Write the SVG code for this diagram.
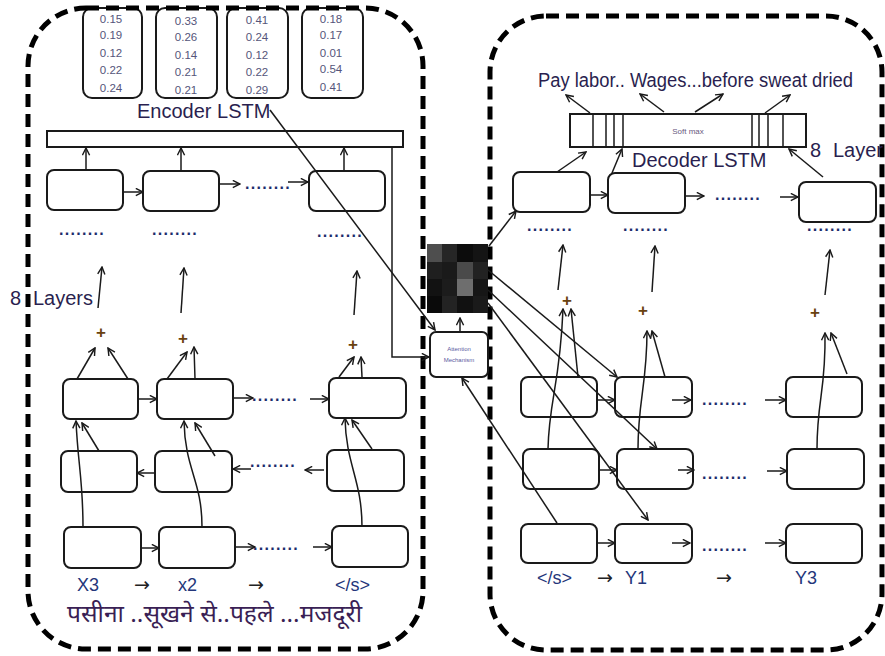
<svg xmlns="http://www.w3.org/2000/svg" width="885" height="656" viewBox="0 0 885 656">
<style>
.panel{fill:none;stroke:#000;stroke-width:5;stroke-dasharray:13 7}
.box{fill:#fff;stroke:#1a1a1a;stroke-width:2}
.ln{fill:none;stroke:#1a1a1a;stroke-width:1.5}
.ar{marker-end:url(#ah)}
.num{font-family:"Liberation Sans",Arial,sans-serif;font-size:11.5px;fill:#55557a;text-anchor:middle}
.lbl{font-family:"Liberation Sans",Arial,sans-serif;font-size:20px;fill:#2a1f4f}
.bot{font-family:"Liberation Sans",Arial,sans-serif;font-size:18px;fill:#24367a}
.arrtxt{font-family:"DejaVu Sans","Liberation Sans",sans-serif;font-size:19px;fill:#222}
.dots{font-family:"Liberation Sans",Arial,sans-serif;font-size:16px;letter-spacing:1.3px;fill:#1c2c6c;font-weight:bold}
.plus{font-family:"Liberation Sans",Arial,sans-serif;font-size:17px;font-weight:bold;fill:#6a4210;text-anchor:middle}
</style>
<defs>
<marker id="ah" viewBox="0 0 10 10" refX="9" refY="5" markerWidth="9" markerHeight="9" markerUnits="userSpaceOnUse" orient="auto">
<path d="M1,1 L9,5 L1,9" fill="none" stroke="#1a1a1a" stroke-width="1.6"/>
</marker>
</defs>

<!-- probability vectors -->
<g id="vec1"><rect class="box" x="83" y="8" width="59" height="90" rx="9"/>
<text class="num" x="111" y="23">0.15</text><text class="num" x="111" y="39">0.19</text><text class="num" x="111" y="57">0.12</text><text class="num" x="111" y="74">0.22</text><text class="num" x="111" y="92">0.24</text></g>
<g id="vec2"><rect class="box" x="156" y="8" width="61" height="90" rx="9"/>
<text class="num" x="186" y="25">0.33</text><text class="num" x="186" y="41">0.26</text><text class="num" x="186" y="59">0.14</text><text class="num" x="186" y="76">0.21</text><text class="num" x="186" y="94">0.21</text></g>
<g id="vec3"><rect class="box" x="227" y="8" width="61" height="90" rx="9"/>
<text class="num" x="257" y="24">0.41</text><text class="num" x="257" y="41">0.24</text><text class="num" x="257" y="59">0.12</text><text class="num" x="257" y="76">0.22</text><text class="num" x="257" y="94">0.29</text></g>
<g id="vec4"><rect class="box" x="302" y="8" width="61" height="90" rx="9"/>
<text class="num" x="331" y="23">0.18</text><text class="num" x="331" y="39">0.17</text><text class="num" x="331" y="57">0.01</text><text class="num" x="331" y="73">0.54</text><text class="num" x="331" y="91">0.41</text></g>

<!-- panels -->
<g id="encoder-panel"><rect class="panel" x="28" y="8" width="395" height="641" rx="58"/></g>
<g id="decoder-panel"><rect class="panel" x="490" y="16" width="392" height="634" rx="56"/></g>

<!-- labels -->
<g id="labels">
<text class="lbl" x="137" y="118">Encoder LSTM</text>
<text class="lbl" x="632" y="167">Decoder LSTM</text>
<text class="lbl" x="10" y="305" fill="#7a4a10">8</text>
<text class="lbl" x="33" y="305">Layers</text>
<text class="lbl" x="810" y="157">8</text>
<text class="lbl" x="833" y="157">Layer</text>
<text class="lbl" x="538" y="87" font-size="18" textLength="315" lengthAdjust="spacingAndGlyphs">Pay labor.. Wages...before sweat dried</text>
<text class="bot" x="77" y="591">X3</text>
<text class="arrtxt" x="134" y="591">→</text>
<text class="bot" x="178" y="591">x2</text>
<text class="arrtxt" x="248" y="591">→</text>
<text class="bot" x="335" y="591">&lt;/s&gt;</text>
<text class="bot" x="537" y="584">&lt;/s&gt;</text>
<text class="arrtxt" x="597" y="584">→</text>
<text class="bot" x="625" y="584">Y1</text>
<text class="arrtxt" x="716" y="584">→</text>
<text class="bot" x="795" y="584">Y3</text>
<text x="67" y="622" font-family="'Noto Sans Devanagari','Noto Sans','Lohit Devanagari',sans-serif" font-size="24" fill="#3a1f55" textLength="295" lengthAdjust="spacingAndGlyphs">पसीना ..सूखने  से..पहले ...मजदूरी</text>
</g>

<!-- encoder -->
<g id="enc-bar"><rect class="box" x="47" y="131" width="356" height="16" rx="0"/></g>
<g id="enc-top1"><rect class="box" x="47" y="170" width="76" height="40" rx="7"/></g>
<g id="enc-top2"><rect class="box" x="143" y="171" width="76" height="40" rx="7"/></g>
<g id="enc-top3"><rect class="box" x="309" y="171" width="76" height="40" rx="7"/></g>
<g id="enc-a1"><rect class="box" x="63" y="379" width="75" height="40" rx="7"/></g>
<g id="enc-a2"><rect class="box" x="157" y="379" width="76" height="40" rx="7"/></g>
<g id="enc-a3"><rect class="box" x="329" y="378" width="77" height="40" rx="7"/></g>
<g id="enc-b1"><rect class="box" x="61" y="451" width="76" height="41" rx="7"/></g>
<g id="enc-b2"><rect class="box" x="155" y="451" width="77" height="41" rx="7"/></g>
<g id="enc-b3"><rect class="box" x="327" y="450" width="77" height="41" rx="7"/></g>
<g id="enc-c1"><rect class="box" x="64" y="527" width="77" height="41" rx="7"/></g>
<g id="enc-c2"><rect class="box" x="159" y="527" width="76" height="41" rx="7"/></g>
<g id="enc-c3"><rect class="box" x="332" y="526" width="76" height="41" rx="7"/></g>

<!-- decoder -->
<g id="softmax">
<rect class="box" x="570" y="114" width="236" height="33"/>
<path class="ln" d="M593,114V147M606,114V147M614,114V147M623,114V147M752,114V147M759,114V147M768,114V147M783,114V147"/>
<text x="688" y="134" font-family="'Liberation Sans',Arial,sans-serif" font-size="8" fill="#6a5a80" text-anchor="middle">Soft max</text>
</g>
<g id="dec-top1"><rect class="box" x="513" y="172" width="77" height="40" rx="7"/></g>
<g id="dec-top2"><rect class="box" x="608" y="173" width="77" height="40" rx="7"/></g>
<g id="dec-top3"><rect class="box" x="799" y="182" width="77" height="40" rx="7"/></g>
<g id="dec-a1"><rect class="box" x="521" y="377" width="76" height="40" rx="7"/></g>
<g id="dec-a2"><rect class="box" x="615" y="377" width="77" height="40" rx="7"/></g>
<g id="dec-a3"><rect class="box" x="786" y="377" width="76" height="40" rx="7"/></g>
<g id="dec-b1"><rect class="box" x="523" y="449" width="76" height="40" rx="7"/></g>
<g id="dec-b2"><rect class="box" x="617" y="449" width="76" height="40" rx="7"/></g>
<g id="dec-b3"><rect class="box" x="787" y="449" width="77" height="40" rx="7"/></g>
<g id="dec-c1"><rect class="box" x="521" y="524" width="76" height="39" rx="7"/></g>
<g id="dec-c2"><rect class="box" x="615" y="524" width="77" height="39" rx="7"/></g>
<g id="dec-c3"><rect class="box" x="786" y="524" width="76" height="39" rx="7"/></g>

<!-- attention -->
<g id="attention-matrix">
<rect x="427" y="244" width="15" height="18" fill="#4e4e4e"/><rect x="442" y="244" width="15" height="18" fill="#262626"/><rect x="457" y="244" width="16" height="18" fill="#0c0c0c"/><rect x="473" y="244" width="15" height="18" fill="#141414"/>
<rect x="427" y="262" width="15" height="17" fill="#1f1f1f"/><rect x="442" y="262" width="15" height="17" fill="#1a1a1a"/><rect x="457" y="262" width="16" height="17" fill="#4a4a4a"/><rect x="473" y="262" width="15" height="17" fill="#222"/>
<rect x="427" y="279" width="15" height="17" fill="#121212"/><rect x="442" y="279" width="15" height="17" fill="#1c1c1c"/><rect x="457" y="279" width="16" height="17" fill="#6e6e6e"/><rect x="473" y="279" width="15" height="17" fill="#161616"/>
<rect x="427" y="296" width="15" height="17" fill="#0a0a0a"/><rect x="442" y="296" width="15" height="17" fill="#232323"/><rect x="457" y="296" width="16" height="17" fill="#111"/><rect x="473" y="296" width="15" height="17" fill="#1a1a1a"/>
</g>
<g id="attention-mechanism">
<rect class="box" x="430" y="332" width="58" height="45" rx="6" stroke-width="1.5"/>
<text x="459" y="351" font-family="'Liberation Sans',Arial,sans-serif" font-size="6" fill="#5a5aa0" text-anchor="middle">Attention</text>
<text x="459" y="362" font-family="'Liberation Sans',Arial,sans-serif" font-size="6" fill="#5a5aa0" text-anchor="middle">Mechanism</text>
</g>

<!-- dots -->
<g id="dots">
<text class="dots" x="59" y="235">........</text>
<text class="dots" x="152" y="235">........</text>
<text class="dots" x="317" y="237">........</text>
<text class="dots" x="245" y="189">........</text>
<text class="dots" x="252" y="401">........</text>
<text class="dots" x="250" y="467">........</text>
<text class="dots" x="253" y="550">........</text>
<text class="dots" x="715" y="200">........</text>
<text class="dots" x="527" y="231">........</text>
<text class="dots" x="623" y="231">........</text>
<text class="dots" x="807" y="231">........</text>
<text class="dots" x="702" y="405">........</text>
<text class="dots" x="702" y="479">........</text>
<text class="dots" x="702" y="551">........</text>
</g>
<g id="plus">
<text class="plus" x="101" y="338">+</text>
<text class="plus" x="183" y="344">+</text>
<text class="plus" x="353" y="350">+</text>
<text class="plus" x="567" y="306">+</text>
<text class="plus" x="643" y="316">+</text>
<text class="plus" x="815" y="318">+</text>
</g>

<!-- connectors -->
<g id="connectors" class="ln">
<path class="ar" d="M86,170 L86,148"/>
<path class="ar" d="M181,171 L181,148"/>
<path class="ar" d="M344,171 L344,148"/>
<path class="ar" d="M123,192 L143,192"/>
<path class="ar" d="M219,184 L240,184"/>
<path class="ar" d="M288,182 L308,182"/>
<path class="ar" d="M98,308 L102,267"/>
<path class="ar" d="M181,313 L184,268"/>
<path class="ar" d="M354,315 L357,271"/>
<path class="ar" d="M77,379 L95,348"/>
<path class="ar" d="M128,379 L108,348"/>
<path class="ar" d="M167,379 L187,352"/>
<path class="ar" d="M195,379 L194,347"/>
<path class="ar" d="M339,377 L354,357"/>
<path class="ar" d="M362,377 L361,357"/>
<path class="ar" d="M138,399 L157,399"/>
<path class="ar" d="M233,398 L253,398"/>
<path class="ar" d="M310,399 L329,399"/>
<path class="ar" d="M155,473 L137,473"/>
<path class="ar" d="M251,469 L233,469"/>
<path class="ar" d="M324,470 L305,470"/>
<path class="ar" d="M141,548 L159,548"/>
<path class="ar" d="M235,547 L255,547"/>
<path class="ar" d="M313,547 L332,547"/>
<path class="ar" d="M83,527 C83,480 78,465 76,421"/>
<path class="ar" d="M99,451 L82,423"/>
<path class="ar" d="M202,527 C202,480 185,470 184,421"/>
<path class="ar" d="M215,456 L195,423"/>
<path class="ar" d="M362,527 C362,480 346,465 345,418"/>
<path class="ar" d="M372,449 L352,420"/>
<path class="ar" d="M392,147 L392,357 L429,357"/>
<path class="ar" d="M270,110 L435,330"/>
<path class="ar" d="M460,331 L460,318"/>
<path class="ar" d="M489,246 L516,211"/>
<path class="ar" d="M488,270 L617,377"/>
<path class="ar" d="M488,290 L657,449"/>
<path class="ar" d="M488,303 L648,520"/>
<path class="ar" d="M557,523 L462,378"/>
<path class="ar" d="M590,195 L608,195"/>
<path class="ar" d="M685,196 L704,196"/>
<path class="ar" d="M780,197 L798,197"/>
<path class="ar" d="M557,172 L586,152"/>
<path class="ar" d="M612,173 L622,149"/>
<path class="ar" d="M823,177 L789,149"/>
<path class="ar" d="M590,113 L566,95"/>
<path class="ar" d="M664,112 L640,94"/>
<path class="ar" d="M695,112 L723,94"/>
<path class="ar" d="M765,113 L790,95"/>
<path class="ar" d="M558,290 L563,245"/>
<path class="ar" d="M652,292 L655,246"/>
<path class="ar" d="M825,295 L830,250"/>
<path class="ar" d="M548,449 C549,400 560,385 563,309"/>
<path class="ar" d="M578,377 L571,309"/>
<path class="ar" d="M638,449 C638,400 647,385 647,331"/>
<path class="ar" d="M665,377 L652,331"/>
<path class="ar" d="M817,449 C817,400 826,390 825,333"/>
<path class="ar" d="M847,374 L831,333"/>
<path class="ar" d="M597,400 L615,400"/>
<path class="ar" d="M672,400 L691,400"/>
<path class="ar" d="M765,400 L786,400"/>
<path class="ar" d="M599,470 L617,470"/>
<path class="ar" d="M678,470 L694,470"/>
<path class="ar" d="M767,471 L787,471"/>
<path class="ar" d="M597,543 L615,543"/>
<path class="ar" d="M672,543 L690,543"/>
<path class="ar" d="M765,543 L786,543"/>
</g>
</svg>
